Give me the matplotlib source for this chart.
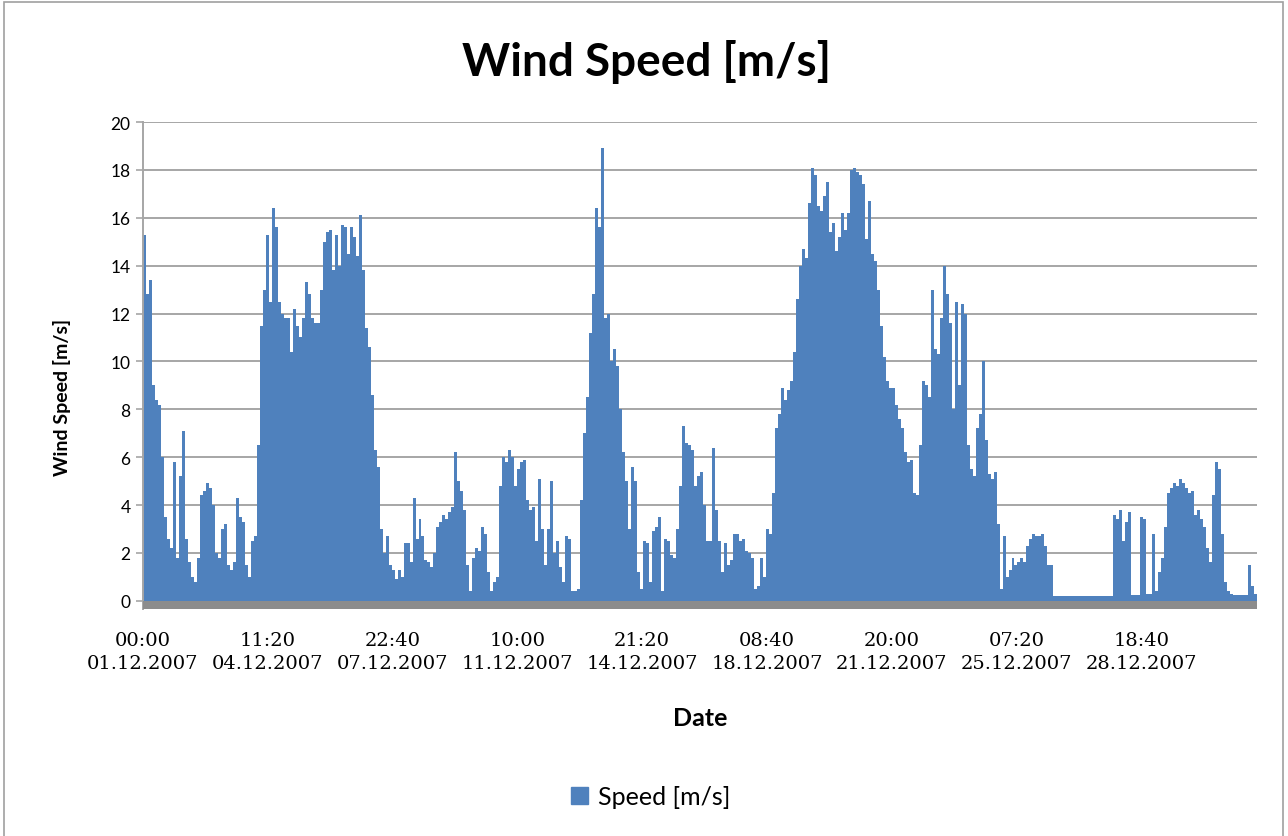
import datetime
import numpy as np
import matplotlib
matplotlib.use('Agg')
import matplotlib.pyplot as plt
from matplotlib.patches import Patch, Rectangle

# 2-hourly wind speed, December 2007 [m/s], one row per day (12 values)
week1 = [
    15.3, 12.8, 13.4, 9.0, 8.4, 8.2, 6.0, 3.5, 2.6, 2.2, 5.8, 1.8,
    5.2, 7.1, 2.6, 1.6, 1.0, 0.8, 1.8, 4.4, 4.6, 4.9, 4.7, 4.0,
    2.0, 1.8, 3.0, 3.2, 1.5, 1.3, 1.6, 4.3, 3.5, 3.3, 1.5, 1.0,
    2.5, 2.7, 6.5, 11.5, 13.0, 15.3, 12.5, 16.4, 15.6, 12.5, 12.0, 11.8,
    11.8, 10.4, 12.2, 11.5, 11.0, 11.8, 13.3, 12.8, 11.8, 11.6, 11.6, 13.0,
    15.0, 15.4, 15.5, 13.8, 15.3, 14.0, 15.7, 15.6, 14.5, 15.6, 15.2, 14.4,
    16.1, 13.8, 11.4, 10.6, 8.6, 6.3, 5.6, 3.0, 2.0, 2.7, 1.5, 1.3,
]
week2 = [
    0.9, 1.3, 1.0, 2.4, 2.4, 1.6, 4.3, 2.6, 3.4, 2.7, 1.7, 1.6,
    1.4, 2.0, 3.1, 3.3, 3.6, 3.4, 3.7, 3.9, 6.2, 5.0, 4.6, 3.8,
    1.5, 0.4, 1.8, 2.2, 2.1, 3.1, 2.8, 1.2, 0.4, 0.8, 1.0, 4.8,
    6.0, 5.8, 6.3, 6.0, 4.8, 5.5, 5.8, 5.9, 4.2, 3.8, 3.9, 2.5,
    5.1, 3.0, 1.5, 3.0, 5.0, 2.0, 2.5, 1.4, 0.8, 2.7, 2.6, 0.4,
    0.4, 0.5, 4.2, 7.0, 8.5, 11.2, 12.8, 16.4, 15.6, 18.9, 11.8, 12.0,
    10.0, 10.5, 9.8, 8.0, 6.2, 5.0, 3.0, 5.6, 5.0, 1.2, 0.5, 2.5,
]
week3 = [
    2.4, 0.8, 2.9, 3.1, 3.5, 0.4, 2.6, 2.5, 1.9, 1.8, 3.0, 4.8,
    7.3, 6.6, 6.5, 6.3, 4.8, 5.2, 5.4, 4.0, 2.5, 2.5, 6.4, 3.8,
    2.5, 1.2, 2.4, 1.5, 1.7, 2.8, 2.8, 2.5, 2.6, 2.1, 2.0, 1.8,
    0.5, 0.6, 1.8, 1.0, 3.0, 2.8, 4.5, 7.2, 7.8, 8.9, 8.4, 8.8,
    9.2, 10.4, 12.6, 14.0, 14.7, 14.3, 16.6, 18.1, 17.8, 16.5, 16.3, 16.9,
    17.5, 15.4, 15.8, 14.6, 15.2, 16.2, 15.5, 16.2, 18.0, 18.1, 17.9, 17.8,
    17.4, 15.1, 16.7, 14.5, 14.2, 13.0, 11.5, 10.2, 9.2, 8.9, 8.9, 8.2,
]
week4 = [
    7.6, 7.2, 6.2, 5.8, 5.9, 4.5, 4.4, 6.5, 9.2, 9.0, 8.5, 13.0,
    10.5, 10.3, 11.8, 14.0, 12.8, 11.6, 8.0, 12.5, 9.0, 12.4, 12.0, 6.5,
    5.5, 5.2, 7.2, 7.8, 10.0, 6.7, 5.3, 5.1, 5.4, 3.2, 0.5, 2.7,
    1.0, 1.3, 1.8, 1.5, 1.6, 1.8, 1.6, 2.3, 2.6, 2.8, 2.7, 2.7,
    2.8, 2.3, 1.5, 1.5, 0.2, 0.2, 0.2, 0.2, 0.2, 0.2, 0.2, 0.2,
    0.2, 0.2, 0.2, 0.2, 0.2, 0.2, 0.2, 0.2, 0.2, 0.2, 0.2, 0.2,
    3.6, 3.4, 3.8, 2.5, 3.3, 3.7, 0.25, 0.25, 0.25, 3.5, 3.4, 0.3,
]
month_end = [
    0.3, 2.8, 0.4, 1.2, 1.8, 3.1, 4.5, 4.7, 4.9, 4.8, 5.1, 4.9,
    4.7, 4.5, 4.6, 3.6, 3.8, 3.4, 3.1, 2.2, 1.6, 4.4, 5.8, 5.5,
    2.8, 0.8, 0.4, 0.3, 0.25, 0.25, 0.25, 0.25, 0.25, 1.5, 0.6, 0.3,
]

tick_labels = ['00:00\n01.12.2007', '11:20\n04.12.2007', '22:40\n07.12.2007',
               '10:00\n11.12.2007', '21:20\n14.12.2007', '08:40\n18.12.2007',
               '20:00\n21.12.2007', '07:20\n25.12.2007', '18:40\n28.12.2007']

speed = np.array(week1 + week2 + week3 + week4 + month_end)
step_h = 2.0
edges = np.arange(len(speed) + 1) * step_h

start = datetime.datetime(2007, 12, 1)
tick_pos = [(datetime.datetime.strptime(t, '%H:%M\n%d.%m.%Y') - start).total_seconds() / 3600
            for t in tick_labels]

blue = '#4f81bd'
grid_c = '#a6a6a6'

fig = plt.figure(figsize=(12.88, 8.37), dpi=100)
ax = fig.add_axes([0.111, 0.271, 0.865, 0.582])

# columns drawn as one filled step outline so neighbours don't leave seams
ax.stairs(speed, edges, fill=True, color=blue, lw=0, zorder=2)

# grey floor under the zero line
ax.axhspan(-0.35, 0, color='#8c8c8c', lw=0, zorder=3)

ax.set_xlim(0, 31 * 24)
ax.set_ylim(-0.35, 20)
ax.set_yticks(np.arange(0, 21, 2))
ax.yaxis.grid(True, color=grid_c, lw=1.4, zorder=1)
ax.set_axisbelow(True)

ax.set_xticks(tick_pos)
ax.set_xticklabels(tick_labels, family='DejaVu Serif', fontsize=14, linespacing=1.35)
ax.tick_params(axis='x', length=0, pad=16)
ax.tick_params(axis='y', length=5, color=grid_c, width=1.2, labelsize=12.5, pad=4)
for lab in ax.get_yticklabels():
    lab.set_family('Lato')

for s in ['top', 'right', 'bottom']:
    ax.spines[s].set_visible(False)
ax.spines['left'].set_color(grid_c)
ax.spines['left'].set_linewidth(1.4)

ax.set_ylabel('Wind Speed [m/s]', family='Lato', fontweight='bold', fontsize=14)
ax.yaxis.set_label_coords(-0.065, 0.436)
ax.set_xlabel('Date', family='Lato', fontweight='bold', fontsize=18, labelpad=24)
fig.text(0.502, 0.926, 'Wind Speed [m/s]', family='Lato', fontweight='bold',
         fontsize=33, ha='center', va='center')

leg = fig.legend(handles=[Patch(color=blue, label='Speed [m/s]')], loc='center',
                 bbox_to_anchor=(0.505, 0.047), frameon=False, handlelength=0.7,
                 handleheight=0.7, handletextpad=0.4, prop={'family': 'Lato', 'size': 18})

# chart-area border
fig.patches.append(Rectangle((0.003, -0.01), 0.993, 1.006, transform=fig.transFigure,
                             fill=False, edgecolor='#a0a0a0', lw=1.2))

fig.savefig('out.png', dpi=100)
